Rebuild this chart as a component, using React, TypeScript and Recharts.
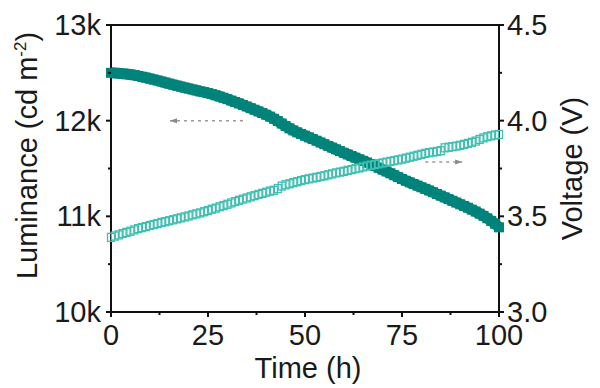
import React from 'react';
import {
  ComposedChart,
  Line,
  XAxis,
  YAxis,
  ReferenceLine,
} from 'recharts';

// time in hours, one reading per hour
const timeH = Array.from({ length: 101 }, (_, i) => i);

// luminance (cd m-2)
const luminance = [
  12500, 12498, 12495, 12491, 12487, 12482, 12476, 12468, 12459, 12450,
  12440, 12430, 12420, 12409, 12398, 12387, 12376, 12366, 12356, 12346,
  12336, 12326, 12316, 12306, 12298, 12288, 12278, 12265, 12252, 12239,
  12225, 12210, 12195, 12180, 12164, 12148, 12131, 12114, 12097, 12080,
  12062, 12042, 12020, 11996, 11970, 11944, 11920, 11898, 11878, 11860,
  11843, 11826, 11808, 11790, 11772, 11754, 11736, 11718, 11700, 11682,
  11664, 11647, 11630, 11613, 11596, 11580, 11563, 11545, 11526, 11507,
  11488, 11469, 11450, 11430, 11410, 11390, 11372, 11355, 11338, 11321,
  11304, 11287, 11270, 11252, 11234, 11216, 11198, 11180, 11162, 11144,
  11126, 11108, 11090, 11070, 11050, 11028, 11005, 10980, 10952, 10922,
  10885,
];

// voltage (V)
const voltage = [
  3.39, 3.397, 3.403, 3.41, 3.416, 3.422, 3.429, 3.436, 3.441, 3.446,
  3.452, 3.457, 3.462, 3.468, 3.472, 3.477, 3.482, 3.487, 3.492, 3.497,
  3.502, 3.508, 3.513, 3.518, 3.524, 3.53, 3.537, 3.543, 3.55, 3.556,
  3.563, 3.57, 3.577, 3.584, 3.59, 3.596, 3.602, 3.608, 3.614, 3.62,
  3.626, 3.632, 3.636, 3.645, 3.658, 3.665, 3.67, 3.676, 3.681, 3.687,
  3.692, 3.696, 3.7, 3.704, 3.708, 3.712, 3.717, 3.722, 3.727, 3.731,
  3.735, 3.74, 3.744, 3.749, 3.753, 3.758, 3.763, 3.767, 3.771, 3.775,
  3.779, 3.783, 3.787, 3.791, 3.795, 3.799, 3.804, 3.809, 3.814, 3.819,
  3.824, 3.829, 3.833, 3.836, 3.839, 3.843, 3.858, 3.861, 3.864, 3.867,
  3.871, 3.876, 3.881, 3.887, 3.893, 3.902, 3.91, 3.916, 3.921, 3.925,
  3.928,
];

const xTicks = [0, 12.5, 25, 37.5, 50, 62.5, 75, 87.5, 100];
const lumTicks = [10000, 10500, 11000, 11500, 12000, 12500, 13000];
const voltTicks = [3.0, 3.25, 3.5, 3.75, 4.0, 4.25, 4.5];

const data = timeH.map((t, i) => ({
  t,
  lum: luminance[i],
  volt: voltage[i],
}));

const FONT = 'Arial, "Liberation Sans", sans-serif';
const FS = 29;
const LUM_COLOR = '#00837a';
const VOLT_COLOR = '#3fbfb2';

const BottomTick = (props: any) => {
  const { x, y, payload } = props;
  const major = payload.value % 25 === 0;
  return (
    <g>
      <line x1={x} y1={y} x2={x} y2={y + (major ? 5 : 3)} stroke='#111' strokeWidth={2} />
      {major && (
        <text x={x} y={y + 33} textAnchor='middle' fontSize={FS} fontFamily={FONT} fill='#1a1a1a'>
          {payload.value}
        </text>
      )}
    </g>
  );
};

const LeftTick = (props: any) => {
  const { x, y, payload } = props;
  const major = payload.value % 1000 === 0;
  return (
    <g>
      <line x1={x} y1={y} x2={x - (major ? 5 : 3)} y2={y} stroke='#111' strokeWidth={2} />
      {major && (
        <text x={x - 10} y={y + 10} textAnchor='end' fontSize={FS} fontFamily={FONT} fill='#1a1a1a'>
          {payload.value / 1000 + 'k'}
        </text>
      )}
    </g>
  );
};

const RightTick = (props: any) => {
  const { x, y, payload } = props;
  const major = Math.round(payload.value * 100) % 50 === 0;
  return (
    <g>
      <line x1={x} y1={y} x2={x + (major ? 5 : 3)} y2={y} stroke='#111' strokeWidth={2} />
      {major && (
        <text x={x + 8} y={y + 10} textAnchor='start' fontSize={FS} fontFamily={FONT} fill='#1a1a1a'>
          {payload.value.toFixed(1)}
        </text>
      )}
    </g>
  );
};

const FilledSquare = (props: any) => {
  const { cx, cy, index } = props;
  if (cx == null || cy == null) return <g key={'l' + index} />;
  return <rect key={'l' + index} x={cx - 5} y={cy - 5} width={10} height={10} fill={LUM_COLOR} />;
};

const OpenSquare = (props: any) => {
  const { cx, cy, index } = props;
  if (cx == null || cy == null) return <g key={'v' + index} />;
  return (
    <rect
      key={'v' + index}
      x={cx - 3.5}
      y={cy - 4}
      width={7}
      height={8}
      fill='none'
      stroke={VOLT_COLOR}
      strokeWidth={1.3}
    />
  );
};

const Arrow = (props: any) => {
  const { x1, y1, x2, y2, dir } = props;
  const tipX = dir === 'left' ? Math.min(x1, x2) : Math.max(x1, x2);
  const s = dir === 'left' ? 1 : -1;
  return (
    <g>
      <line x1={x1} y1={y1} x2={x2} y2={y2} stroke='#9a9a9a' strokeWidth={1.5} strokeDasharray='3 4' />
      <polygon
        points={`${tipX},${y1} ${tipX + s * 7},${y1 - 2.5} ${tipX + s * 7},${y1 + 2.5}`}
        fill='#8a8a8a'
      />
    </g>
  );
};

export default function App() {
  return (
    <div style={{ position: 'absolute', left: 0, top: 0, background: '#fff' }}>
      <ComposedChart
        width={600}
        height={388}
        data={data}
        margin={{ top: 25, right: 0, bottom: 36, left: 0 }}
      >
        <XAxis
          dataKey='t'
          type='number'
          domain={[0, 100]}
          ticks={xTicks}
          interval={0}
          height={40}
          tickSize={0}
          tickMargin={0}
          tickLine={false}
          axisLine={{ stroke: '#111', strokeWidth: 2 }}
          tick={<BottomTick />}
          label={(p: any) => (
            <text
              x={p.viewBox.x + p.viewBox.width / 2 + 3}
              y={p.viewBox.y + 66}
              textAnchor='middle'
              fontSize={FS}
              fontFamily={FONT}
              fill='#1a1a1a'
            >
              Time (h)
            </text>
          )}
        />
        <YAxis
          yAxisId='left'
          orientation='left'
          type='number'
          domain={[10000, 13000]}
          ticks={lumTicks}
          interval={0}
          width={111}
          tickSize={0}
          tickMargin={0}
          tickLine={false}
          axisLine={{ stroke: '#111', strokeWidth: 2 }}
          tick={<LeftTick />}
          label={(p: any) => {
            const cx = 37;
            const cy = p.viewBox.y + p.viewBox.height / 2 - 13;
            return (
              <text
                x={cx}
                y={cy}
                transform={`rotate(-90, ${cx}, ${cy})`}
                textAnchor='middle'
                fontSize={FS}
                fontFamily={FONT}
                fill='#1a1a1a'
              >
                Luminance (cd m
                <tspan fontSize={17} dy={-11}>-2</tspan>
                <tspan dy={11}>)</tspan>
              </text>
            );
          }}
        />
        <YAxis
          yAxisId='right'
          orientation='right'
          type='number'
          domain={[3, 4.5]}
          ticks={voltTicks}
          interval={0}
          width={101}
          tickSize={0}
          tickMargin={0}
          tickLine={false}
          axisLine={{ stroke: '#111', strokeWidth: 2 }}
          tick={<RightTick />}
          label={(p: any) => {
            const cx = 582;
            const cy = p.viewBox.y + p.viewBox.height / 2;
            return (
              <text
                x={cx}
                y={cy}
                transform={`rotate(-90, ${cx}, ${cy})`}
                textAnchor='middle'
                fontSize={FS}
                fontFamily={FONT}
                fill='#1a1a1a'
              >
                Voltage (V)
              </text>
            );
          }}
        />
        <ReferenceLine yAxisId='left' y={13000} stroke='#111' strokeWidth={2} />
        <ReferenceLine
          yAxisId='left'
          segment={[
            { x: 15.2, y: 12000 },
            { x: 35, y: 12000 },
          ]}
          shape={(p: any) => <Arrow {...p} dir='left' />}
        />
        <ReferenceLine
          yAxisId='right'
          segment={[
            { x: 81, y: 3.784 },
            { x: 90.5, y: 3.784 },
          ]}
          shape={(p: any) => <Arrow {...p} dir='right' />}
        />
        <Line
          yAxisId='left'
          dataKey='lum'
          type='linear'
          stroke={LUM_COLOR}
          strokeWidth={11}
          strokeLinejoin='round'
          dot={FilledSquare}
          activeDot={false}
          isAnimationActive={false}
        />
        <Line
          yAxisId='right'
          dataKey='volt'
          stroke='none'
          dot={OpenSquare}
          activeDot={false}
          isAnimationActive={false}
        />
      </ComposedChart>
    </div>
  );
}
